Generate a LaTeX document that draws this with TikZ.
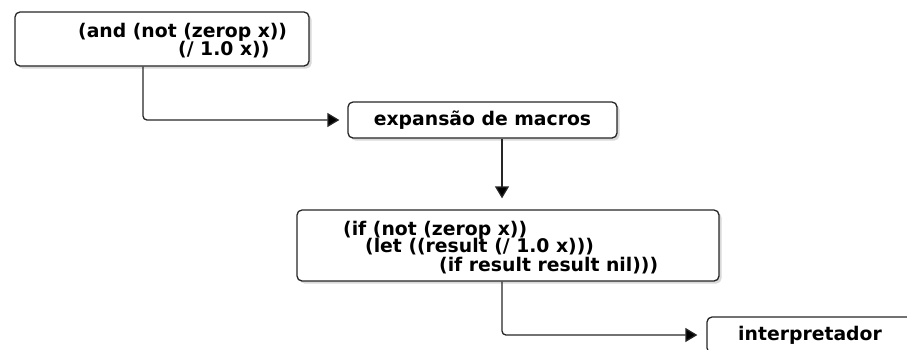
\documentclass[tikz,border=0pt]{standalone}
\usepackage{fontspec}
\setmainfont{DejaVu Sans}
\usetikzlibrary{arrows.meta,shadows,positioning}

\tikzset{
  stage/.style={draw=black!85, line width=1.3pt, rounded corners=5pt, fill=white, inner sep=0pt,
    drop shadow={opacity=0.3, shadow xshift=2.5pt, shadow yshift=-2.5pt}},
  code/.style={inner sep=0pt, font=\fontsize{18.8}{18}\selectfont\bfseries},
  flow/.style={draw=black!85, line width=1.3pt, rounded corners=4pt,
    -{Triangle[length=12pt,width=14pt,fill=black]}}
}

\begin{document}
\begin{tikzpicture}[x=1pt,y=-1pt]
  \clip (0,0) rectangle (907,349);   % page = reference frame

  \node[stage, minimum width=294pt, minimum height=54pt] (source) at (162,39) {};      % input form
  \node[code, anchor=base west] (source1) at (78,37) {(and (not (zerop x))};
  \node[code, anchor=base west] (source2) at (178,55) {(/ 1.0 x))};

  \node[stage, code, minimum width=269pt, minimum height=36pt] (macro) at (482.5,120)
    {expans\~ao de macros};                                                           % step 1

  \node[stage, minimum width=422pt, minimum height=71pt] (expanded) at (508,245.5) {}; % expanded form
  \node[code, anchor=base west] (expanded1) at (343,235) {(if (not (zerop x))};
  \node[code, anchor=base west] (expanded2) at (365,252) {(let ((result (/ 1.0 x)))};
  \node[code, anchor=base west] (expanded3) at (439,271) {(if result result nil)))};

  \node[stage, minimum width=292pt, minimum height=36pt] (interp) at (853,335) {};     % step 2
  \node[code, anchor=base west] (interp1) at (738,340) {interpretador};

  \draw[flow, shorten >=8pt] ([xshift=-19pt]source.south) |- (macro.west);
  \draw[flow, shorten >=11pt] ([xshift=19.5pt]macro.south) -- ([xshift=19.5pt]macro.south |- expanded.north);
  \draw[flow, shorten >=9pt] ([xshift=-6pt]expanded.south) |- (interp.west);
\end{tikzpicture}
\end{document}
